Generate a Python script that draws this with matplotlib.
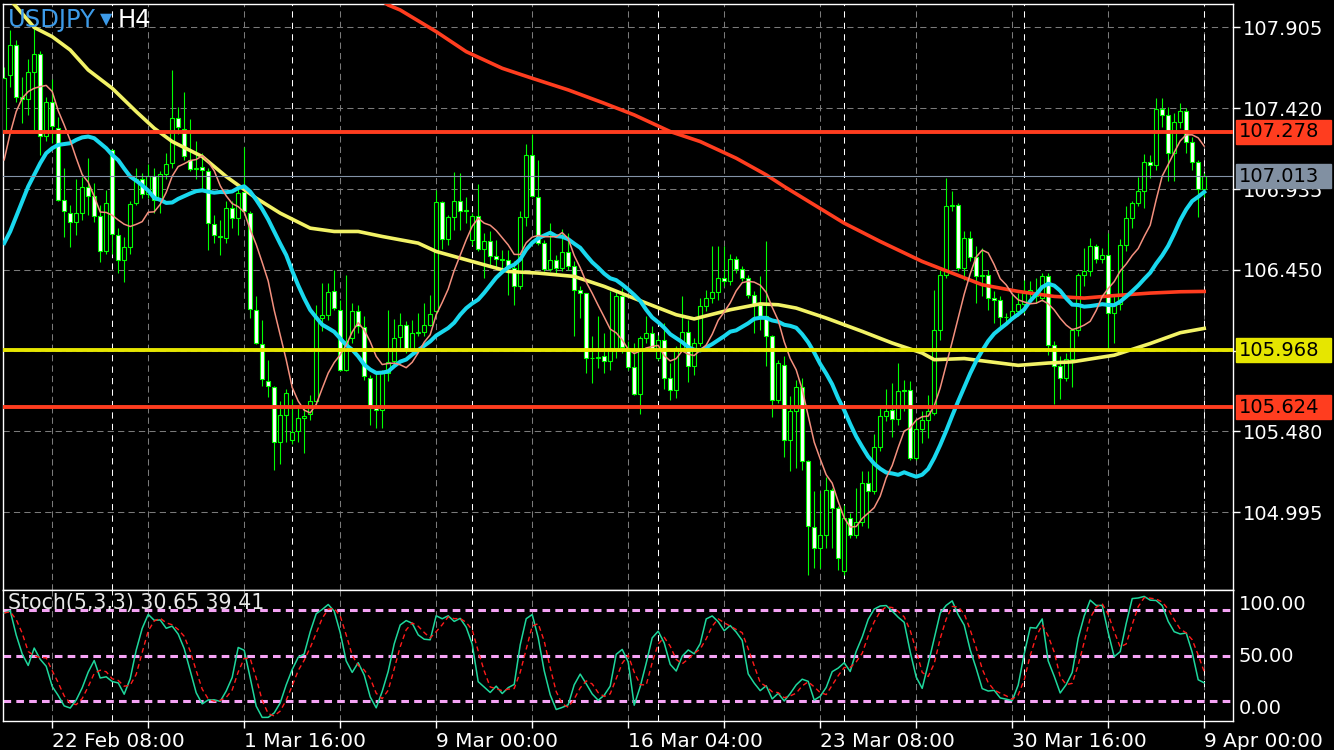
import numpy as np
import pandas as pd
import matplotlib
matplotlib.use("Agg")
import matplotlib.pyplot as plt
from matplotlib import transforms
from matplotlib.patches import Rectangle

# USDJPY H4 bars (oldest first), 21 Feb -> 9 Apr
opens = [107.29, 107.617, 107.798, 107.486, 107.475, 107.64, 107.748, 107.251, 107.459, 107.30,
         106.867, 106.792, 106.736, 106.79, 106.95, 106.894, 106.774, 106.562, 107.17, 106.657,
         106.51, 106.589, 106.849, 106.996, 106.905, 107.014, 106.867, 107.023, 107.091, 107.364,
         107.296, 107.109, 107.057, 107.07, 107.041, 106.725, 106.652, 106.639, 106.819, 106.758,
         106.917, 106.792, 106.21, 106.002, 105.783, 105.749, 105.414, 105.577, 105.43, 105.482,
         105.557, 105.584, 105.66, 106.16, 106.18, 106.32, 106.21, 105.85, 106.04, 106.20,
         106.105, 105.80, 105.63, 105.605, 105.83, 105.90, 106.045, 106.12, 105.97, 106.07,
         106.075, 106.12, 106.20, 106.855, 106.633, 106.764, 106.861, 106.805, 106.63, 106.77,
         106.573, 106.623, 106.53, 106.513, 106.51, 106.46, 106.355, 106.764, 107.137, 106.885,
         106.61, 106.456, 106.51, 106.46, 106.557, 106.47, 106.327, 106.31, 105.918, 105.92,
         105.93, 105.90, 105.98, 106.29, 105.98, 105.868, 105.707, 106.039, 106.073, 105.92,
         106.03, 105.80, 105.731, 105.979, 106.079, 105.874, 106.013, 106.23, 106.28, 106.315,
         106.402, 106.38, 106.517, 106.452, 106.402, 106.297, 106.241, 106.17, 106.053, 105.666,
         105.88, 105.425, 105.602, 105.747, 105.30, 104.905, 104.78, 104.86, 105.127, 105.02,
         104.64, 104.96, 104.86, 104.937, 105.167, 105.122, 105.384, 105.572, 105.61, 105.555,
         105.72, 105.73, 105.32, 105.493, 105.547, 105.59, 106.088, 106.417, 106.834, 106.84,
         106.461, 106.639, 106.526, 106.41, 106.42, 106.28, 106.27, 106.165, 106.165, 106.20,
         106.245, 106.31, 106.29, 106.28, 106.41, 105.997, 105.87, 105.80, 105.917, 106.088,
         106.42, 106.44, 106.592, 106.516, 106.54, 106.189, 106.245, 106.596, 106.758, 106.85,
         106.925, 107.10, 107.08, 107.413, 107.379, 107.153, 107.338, 107.403, 107.217, 107.10,
         106.935]
highs = [107.67, 107.888, 107.83, 107.606, 107.718, 107.90, 107.764, 107.49, 107.594, 107.37,
         107.063, 106.838, 106.996, 107.007, 107.12, 106.973, 106.838, 106.928, 107.176, 106.702,
         106.646, 106.86, 107.063, 107.03, 107.086, 107.063, 107.041, 107.154, 107.651, 107.425,
         107.515, 107.357, 107.222, 107.154, 107.063, 106.78, 106.747, 106.86, 106.86, 106.95,
         107.188, 106.804, 106.295, 106.149, 105.911, 105.753, 105.663, 105.735, 105.674, 105.618,
         105.629, 105.70, 106.24, 106.37, 106.37, 106.45, 106.27, 106.42, 106.25, 106.24,
         106.17, 105.82, 105.83, 105.85, 106.21, 106.154, 106.19, 106.14, 106.15, 106.19,
         106.25, 106.30, 106.932, 106.865, 106.78, 107.04, 107.03, 106.89, 106.79, 106.966,
         106.67, 106.68, 106.63, 106.57, 106.57, 106.50, 106.80, 107.207, 107.268, 107.11,
         106.63, 106.73, 106.54, 106.694, 106.67, 106.50, 106.35, 106.31, 106.05, 106.17,
         106.07, 106.32, 106.33, 106.34, 106.02, 106.01, 106.05, 106.17, 106.11, 106.06,
         106.13, 105.89, 105.99, 106.295, 106.15, 106.04, 106.28, 106.33, 106.593, 106.593,
         106.59, 106.543, 106.53, 106.47, 106.42, 106.32, 106.41, 106.623, 106.06, 105.91,
         105.93, 105.69, 105.79, 105.80, 105.31, 105.12, 105.11, 105.203, 105.14, 105.03,
         105.04, 104.99, 105.14, 105.24, 105.24, 105.465, 105.62, 105.737, 105.77, 105.888,
         105.79, 105.78, 105.55, 105.60, 105.70, 106.33, 106.45, 106.999, 106.925, 106.85,
         106.683, 106.68, 106.59, 106.58, 106.45, 106.32, 106.29, 106.19, 106.29, 106.31,
         106.39, 106.38, 106.40, 106.43, 106.43, 106.02, 105.93, 105.95, 106.098, 106.43,
         106.58, 106.643, 106.605, 106.58, 106.669, 106.29, 106.633, 106.834, 106.86, 107.006,
         107.147, 107.14, 107.484, 107.48, 107.43, 107.389, 107.45, 107.42, 107.25, 107.11,
         107.03]
lows = [107.27, 107.549, 107.459, 107.334, 107.38, 107.29, 107.142, 107.222, 107.21, 106.86,
        106.646, 106.589, 106.657, 106.747, 106.781, 106.736, 106.499, 106.544, 106.544, 106.431,
        106.374, 106.544, 106.838, 106.883, 106.883, 106.792, 106.792, 106.996, 107.063, 107.267,
        107.109, 107.041, 106.996, 106.928, 106.566, 106.61, 106.539, 106.612, 106.70, 106.657,
        106.792, 106.16, 106.002, 105.753, 105.686, 105.245, 105.283, 105.414, 105.403, 105.414,
        105.347, 105.55, 105.64, 106.08, 106.15, 106.21, 105.84, 105.84, 106.01, 106.07,
        105.79, 105.515, 105.50, 105.50, 105.78, 105.885, 105.98, 105.95, 105.95, 106.05,
        106.05, 106.11, 106.17, 106.573, 106.60, 106.69, 106.69, 106.73, 106.60, 106.565,
        106.40, 106.47, 106.46, 106.45, 106.30, 106.24, 106.335, 106.71, 106.885, 106.60,
        106.44, 106.44, 106.42, 106.44, 106.45, 106.053, 106.16, 105.828, 105.77, 105.86,
        105.83, 105.85, 105.92, 105.95, 105.85, 105.70, 105.586, 106.01, 105.96, 105.91,
        105.737, 105.666, 105.68, 105.97, 105.777, 105.82, 105.99, 106.20, 106.25, 106.27,
        106.35, 106.36, 106.43, 106.38, 106.28, 106.07, 106.09, 105.87, 105.566, 105.65,
        105.324, 105.243, 105.26, 105.25, 104.62, 104.66, 104.66, 104.78, 104.78, 104.65,
        104.62, 104.84, 104.84, 104.91, 104.90, 105.106, 105.36, 105.54, 105.445, 105.52,
        105.60, 105.31, 105.31, 105.41, 105.44, 105.58, 106.03, 106.40, 106.80, 106.44,
        106.39, 106.50, 106.25, 106.29, 106.21, 106.13, 106.11, 106.13, 106.15, 106.17,
        106.19, 106.27, 106.25, 106.26, 105.937, 105.644, 105.675, 105.78, 105.745, 106.05,
        106.35, 106.41, 106.49, 106.49, 105.977, 106.01, 106.21, 106.56, 106.70, 106.83,
        106.82, 107.0, 107.05, 107.31, 106.985, 106.985, 107.30, 107.15, 107.05, 106.764,
        106.885]
closes = [107.60, 107.798, 107.486, 107.475, 107.635, 107.748, 107.255, 107.459, 107.312, 106.871,
          106.801, 106.736, 106.788, 106.95, 106.894, 106.774, 106.562, 106.849, 106.664, 106.51,
          106.585, 106.842, 106.996, 106.905, 107.014, 106.867, 107.023, 107.086, 107.364, 107.305,
          107.131, 107.057, 107.063, 107.048, 106.731, 106.657, 106.646, 106.819, 106.758, 106.91,
          106.804, 106.212, 106.009, 105.794, 105.753, 105.414, 105.577, 105.713, 105.475, 105.557,
          105.573, 105.663, 106.16, 106.18, 106.315, 106.22, 105.848, 106.025, 106.20, 106.11,
          105.81, 105.62, 105.605, 105.83, 105.898, 106.043, 106.12, 105.97, 106.07, 106.075,
          106.116, 106.186, 106.859, 106.633, 106.764, 106.861, 106.805, 106.81, 106.77, 106.573,
          106.623, 106.533, 106.513, 106.51, 106.462, 106.355, 106.764, 107.137, 106.895, 106.61,
          106.456, 106.508, 106.46, 106.557, 106.472, 106.327, 106.31, 105.918, 105.92, 105.925,
          105.90, 105.98, 106.29, 105.985, 105.868, 105.707, 106.039, 106.073, 105.973, 106.03,
          105.80, 105.731, 105.979, 106.079, 105.874, 106.013, 106.23, 106.28, 106.315, 106.402,
          106.38, 106.517, 106.452, 106.402, 106.297, 106.241, 106.17, 106.053, 105.666, 105.888,
          105.425, 105.602, 105.747, 105.30, 104.911, 104.78, 104.86, 105.127, 105.022, 104.72,
          104.96, 104.86, 104.937, 105.167, 105.122, 105.384, 105.572, 105.60, 105.555, 105.723,
          105.73, 105.32, 105.495, 105.547, 105.60, 106.088, 106.417, 106.834, 106.84, 106.461,
          106.639, 106.526, 106.41, 106.42, 106.28, 106.27, 106.165, 106.165, 106.20, 106.245,
          106.31, 106.33, 106.31, 106.41, 105.997, 105.87, 105.80, 105.917, 106.088, 106.42,
          106.44, 106.592, 106.516, 106.54, 106.189, 106.245, 106.596, 106.758, 106.85, 106.925,
          107.10, 107.08, 107.413, 107.379, 107.153, 107.338, 107.403, 107.217, 107.10, 106.935,
          107.013]

# first values of the SMA8 / SMA20 lines (bars before the window is full)
sma8_head = [107.11, 107.27, 107.40, 107.48, 107.52, 107.54, 107.55]
sma20_head = [106.61, 106.68, 106.77, 106.86, 106.95, 107.02, 107.09, 107.15, 107.18, 107.20,
              107.205, 107.21, 107.23, 107.245, 107.25, 107.24, 107.21, 107.18, 107.14]

# slow moving averages, read at sampled bars
yellow_idx = [0, 2, 5, 8, 11, 14, 18, 22, 25, 28, 33, 37, 42, 46, 51, 55, 59, 63, 69, 72, 78, 84,
              89, 95, 100, 107, 112, 115, 121, 126, 129, 132, 137, 143, 148, 153, 155, 160, 169,
              174, 178, 185, 191, 196, 200]
yellow_val = [108.11, 108.03, 107.905, 107.85, 107.77, 107.65, 107.54, 107.40, 107.30, 107.22,
              107.13, 107.01, 106.88, 106.79, 106.70, 106.68, 106.68, 106.65, 106.61, 106.56,
              106.50, 106.44, 106.43, 106.41, 106.35, 106.25, 106.18, 106.155, 106.21, 106.245,
              106.24, 106.22, 106.16, 106.08, 106.01, 105.95, 105.91, 105.917, 105.876, 105.89,
              105.897, 105.937, 106.007, 106.072, 106.098]
red_idx = [58, 64, 66, 72, 77, 83, 88, 94, 100, 105, 111, 116, 122, 127, 130, 135, 140, 146, 153,
           158, 163, 169, 175, 180, 185, 191, 196, 200]
red_val = [108.19, 108.04, 108.01, 107.88, 107.76, 107.66, 107.60, 107.53, 107.45, 107.38, 107.28,
           107.22, 107.12, 107.02, 106.95, 106.84, 106.73, 106.62, 106.50, 106.43, 106.36, 106.32,
           106.29, 106.28, 106.295, 106.31, 106.318, 106.32]

# horizontal levels
level_prices = [107.278, 105.968, 105.624]
level_colors = ['#ff3d1f', '#e6e600', '#ff3d1f']
bid = 107.013

price_ticks = [107.905, 107.420, 106.935, 106.450, 105.965, 105.480, 104.995]
hidden_ticks = [105.965]  # sits under the 105.968 line label
date_idx = [8, 40, 72, 104, 136, 168, 200]
date_labels = ['22 Feb 08:00', '1 Mar 16:00', '9 Mar 00:00', '16 Mar 04:00',
               '23 Mar 08:00', '30 Mar 16:00', '9 Apr 00:00']
week_idx = [18, 48, 78, 109, 140, 170, 200]
stoch_levels = [85, 50, 15]

plt.rcParams['font.family'] = ['DejaVu Sans']

# indicators
c = pd.Series(closes)
sma8 = c.rolling(8).mean().to_numpy()
sma8[:len(sma8_head)] = sma8_head
sma20 = c.rolling(20).mean().to_numpy()
sma20[:len(sma20_head)] = sma20_head

hh = pd.Series(highs).rolling(5, min_periods=1).max()
ll = pd.Series(lows).rolling(5, min_periods=1).min()
k = (c - ll).rolling(3, min_periods=1).sum() / (hh - ll).rolling(3, min_periods=1).sum() * 100
d = k.rolling(3, min_periods=1).mean()

W, H = 1334, 750
fig = plt.figure(figsize=(W / 100, H / 100), dpi=100, facecolor='black')


def box(x0, y0, x1, y1):
    return [x0 / W, 1 - y1 / H, (x1 - x0) / W, (y1 - y0) / H]


ax = fig.add_axes(box(3, 4, 1233, 590))
ax2 = fig.add_axes(box(3, 590, 1233, 721))
LIME = '#00ff00'
x = np.arange(len(closes))
xmax = 204.8

for a in (ax, ax2):
    a.set_facecolor('black')
    a.set_xlim(-0.2, xmax)
    for s in a.spines.values():
        s.set_color('white')
        s.set_linewidth(1)
    for i in range(8, 201, 16):
        a.axvline(i, color='#7a7a7a', lw=0.75, ls=(0, (6, 4)), zorder=1)
    for i in week_idx:
        a.axvline(i, color='white', lw=0.75, ls=(0, (6, 5)), zorder=1.5)

# main panel
ax.set_ylim(104.527, 108.046)
for p in price_ticks:
    ax.axhline(p, color='#7a7a7a', lw=0.75, ls=(0, (6, 4)), zorder=1)

o = np.array(opens)
cl = np.array(closes)
ax.vlines(x, lows, highs, color=LIME, lw=0.8, zorder=2)
ax.bar(x, np.maximum(np.abs(cl - o), 0.004), bottom=np.minimum(o, cl), width=0.62,
       color=np.where(cl >= o, 'black', 'white'), edgecolor=LIME, linewidth=0.8, zorder=3)

ax.plot(red_idx, red_val, color='#ff3d1f', lw=2.6, zorder=4)
ax.plot(yellow_idx, yellow_val, color='#f2f266', lw=2.6, zorder=4)
ax.plot(x, sma20, color='#19d8ee', lw=2.9, zorder=5)
ax.plot(x, sma8, color='#f4907e', lw=1.1, zorder=6)

ax.axhline(bid, color='#8393a8', lw=0.8, zorder=7)
for p, col in zip(level_prices, level_colors):
    ax.axhline(p, color=col, lw=2.8, zorder=7)

ax.set_xticks([])
ax.yaxis.tick_right()
ax.set_yticks(price_ticks)
ax.set_yticklabels(['' if p in hidden_ticks else f'{p:.3f}' for p in price_ticks])
ax.tick_params(axis='y', colors='white', length=5, width=1, pad=2, labelsize=14)

# boxed labels for the lines
trans = transforms.blended_transform_factory(ax.transAxes, ax.transData)
bx = (1236 - 3) / 1230
bw = (1331 - 1236) / 1230
half = 12 / 166.5
for p, col in zip(level_prices + [bid], level_colors + ['#8190a2']):
    ax.add_patch(Rectangle((bx, p - half), bw, 2 * half, transform=trans, color=col,
                           clip_on=False, zorder=10))
    ax.text(bx + 3 / 1230, p, f'{p:.3f}', transform=trans, ha='left', va='center',
            fontsize=14, color='black', zorder=11, clip_on=False)

# symbol title
ty = (590 - 20) / 586
ax.text(5 / 1230, ty, 'USDJPY', transform=ax.transAxes, color='#3d9be9', fontsize=17.5,
        ha='left', va='center', zorder=12)
ax.text(97 / 1230, ty, '▼', transform=ax.transAxes, color='#3d9be9', fontsize=11.5,
        ha='left', va='center', zorder=12)
ax.text(115 / 1230, ty, 'H4', transform=ax.transAxes, color='white', fontsize=17.5,
        ha='left', va='center', zorder=12)

# stochastic panel
ax2.set_ylim(0, 100)
for lv in stoch_levels:
    ax2.axhline(lv, color='#f5a3f5', lw=2.2, ls=(0, (2.5, 1.7)), zorder=2)
ax2.plot(x, k, color='#1ed79c', lw=1.1, zorder=4)
ax2.plot(x, d, color='#ff1a1a', lw=1.0, ls=(0, (3.5, 2.5)), zorder=5)
ax2.set_yticks([])
ax2.text(5 / 1230, (721 - 603) / 131, 'Stoch(5,3,3) 30.65 39.41', transform=ax2.transAxes,
         color='#e8e8e8', fontsize=14.8, ha='left', va='center', zorder=6)
for lab, yy in zip(['100.00', '50.00', '0.00'], [604, 656, 709]):
    ax2.text(bx + 3 / 1230, (721 - yy) / 131, lab, transform=ax2.transAxes, color='white',
             fontsize=14, ha='left', va='center', clip_on=False)

ticks = list(range(8, 201, 16))
ax2.set_xticks(ticks)
ax2.set_xticklabels([date_labels[date_idx.index(t)] if t in date_idx else '' for t in ticks])
ax2.tick_params(axis='x', colors='white', length=5, width=1, pad=3, labelsize=14.5)
for lab in ax2.get_xticklabels():
    lab.set_horizontalalignment('left')

fig.savefig('out.png', dpi=100, facecolor='black')
